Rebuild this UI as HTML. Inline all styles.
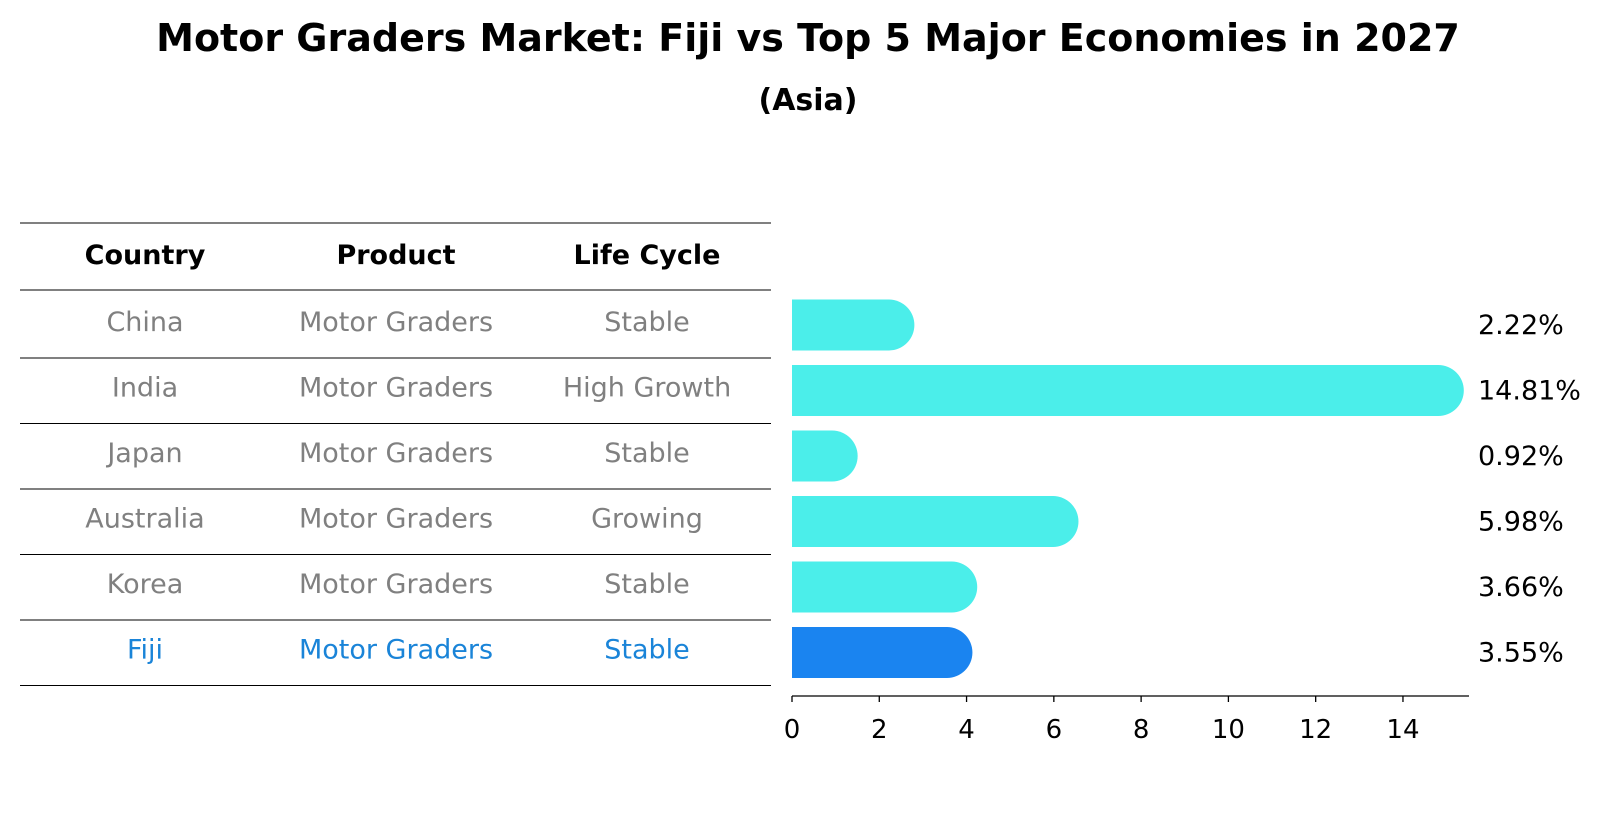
<!DOCTYPE html>
<html><head><meta charset="utf-8"><style>
body{margin:0;background:#fff;font-family:"Liberation Sans","DejaVu Sans",sans-serif}
#c{position:relative;width:1604px;height:823px;overflow:hidden}
</style></head><body>
<div id="c">
<svg id="s" width="1604" height="823" font-family="DejaVu Sans, Liberation Sans, sans-serif">
<text x="808" y="51" text-anchor="middle" font-size="38" font-weight="bold">Motor Graders Market: Fiji vs Top 5 Major Economies in 2027</text>
<text x="808" y="110" text-anchor="middle" font-size="30" font-weight="bold">(Asia)</text>
<g id="table"></g>
<g id="bars"></g>
</svg>
</div>
<script>
const countries=["China","India","Japan","Australia","Korea","Fiji"];
const products=["Motor Graders","Motor Graders","Motor Graders","Motor Graders","Motor Graders","Motor Graders"];
const lifeCycles=["Stable","High Growth","Stable","Growing","Stable","Stable"];
const values=[2.22,14.81,0.92,5.98,3.66,3.55];
const valueLabels=["2.22%","14.81%","0.92%","5.98%","3.66%","3.55%"];
const xTicks=[0,2,4,6,8,10,12,14];

const NS="http://www.w3.org/2000/svg";
const tbl=document.getElementById('table');
const bars=document.getElementById('bars');
function mk(tag,attrs,parent){const e=document.createElementNS(NS,tag);for(const k in attrs)e.setAttribute(k,attrs[k]);parent.appendChild(e);return e;}
const x0=792,unit=43.64;
const xs=v=>x0+v*unit;
const rowY=i=>325+i*65.5;
const FS=27;
const colX=[145,396,647];
const heads=["Country","Product","Life Cycle"];
heads.forEach((h,j)=>{const t=mk('text',{x:colX[j],y:264,'text-anchor':'middle','font-size':FS,'font-weight':'bold'},tbl);t.textContent=h;

});
[223,290].forEach(y=>{const l=mk('line',{x1:20,x2:771,y1:y,y2:y,stroke:'#000','stroke-width':1},tbl);

});
countries.forEach((c,i)=>{
  const cy=rowY(i);
  const col=(c==="Fiji")?"#1a84d8":"#808080";
  [c,products[i],lifeCycles[i]].forEach((v,j)=>{const t=mk('text',{x:colX[j],y:cy+6,'text-anchor':'middle','font-size':FS,fill:col},tbl);t.textContent=v;
  
  });
  const ly=cy+33;
  const l=mk('line',{x1:20,x2:771,y1:ly,y2:ly,stroke:'#000','stroke-width':1},tbl);
  
  
  const h=51,r=25.5,xe=xs(values[i]);
  const fill=(c==="Fiji")?"#1a84f0":"#4beeea";
  const d=`M${x0},${cy-h/2} L${xe},${cy-h/2} A${r},${r} 0 0 1 ${xe},${cy+h/2} L${x0},${cy+h/2} Z`;
  const p=mk('path',{d:d,fill:fill},bars);
  
  
  const vt=mk('text',{x:1478,y:cy+9,'font-size':FS},bars);vt.textContent=valueLabels[i];
  
  
});
const ax=mk('line',{x1:x0,x2:1469,y1:696,y2:696,stroke:'#000','stroke-width':1.3},bars);


xTicks.forEach(v=>{
  const tk=mk('line',{x1:xs(v),x2:xs(v),y1:696,y2:702,stroke:'#000','stroke-width':1.3},bars);
  
  
  const t=mk('text',{x:xs(v),y:738,'text-anchor':'middle','font-size':26},bars);t.textContent=v;
  
  
});
</script>
</body></html>
